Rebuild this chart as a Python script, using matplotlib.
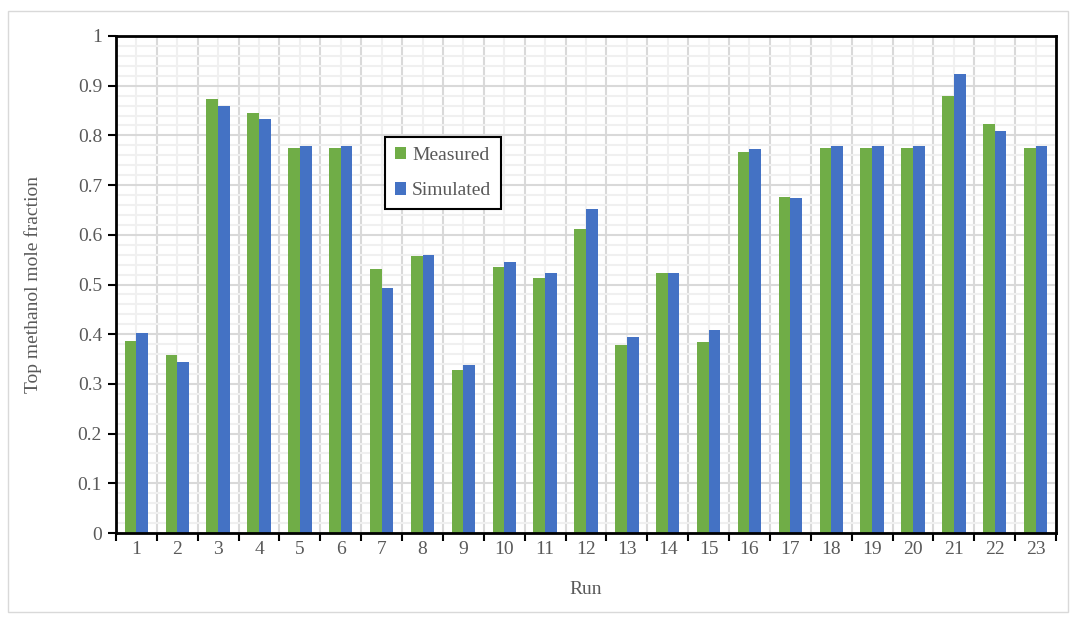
import numpy as np
import matplotlib
matplotlib.use("Agg")
import matplotlib.pyplot as plt
from matplotlib.ticker import MultipleLocator, FixedLocator, NullFormatter
from matplotlib.patches import Rectangle

runs = [str(i) for i in range(1, 24)]
measured = [0.386, 0.358, 0.873, 0.845, 0.775, 0.775, 0.531, 0.557, 0.328, 0.535,
            0.513, 0.612, 0.378, 0.523, 0.384, 0.767, 0.676, 0.775, 0.775, 0.775,
            0.879, 0.822, 0.775]
simulated = [0.402, 0.344, 0.859, 0.832, 0.779, 0.779, 0.493, 0.559, 0.338, 0.545,
             0.523, 0.652, 0.394, 0.523, 0.408, 0.773, 0.674, 0.779, 0.779, 0.779,
             0.923, 0.809, 0.779]

plt.rcParams['font.family'] = ['Liberation Serif', 'DejaVu Serif']
text_grey = '#595959'

fig = plt.figure(figsize=(10.75, 6.19), dpi=100)
ax = fig.add_axes([116 / 1075, 1 - 533 / 619, 940 / 1075, 497 / 619])

# outer chart-area frame
fig.patches.append(Rectangle((8 / 1075, 1 - 612 / 619), 1060 / 1075, 601 / 619,
                             transform=fig.transFigure, fill=False,
                             edgecolor='#D9D9D9', linewidth=1.0))

x = np.arange(len(runs))
w = 0.286
ax.bar(x - w / 2, measured, w, color='#70AD47', linewidth=0,
       label='Measured', zorder=2)
ax.bar(x + w / 2, simulated, w, color='#4472C4', linewidth=0,
       label='Simulated', zorder=2)

ax.set_xlim(-0.5, len(runs) - 0.5)
ax.set_ylim(0, 1)

# x ticks at category boundaries, labels at centres
ax.xaxis.set_major_locator(FixedLocator(np.arange(-0.5, len(runs), 1.0)))
ax.xaxis.set_major_formatter(NullFormatter())
ax.set_xticks(x, labels=runs, minor=True)
ax.tick_params(axis='x', which='minor', length=0, width=0, pad=6, labelsize=14,
               labelcolor=text_grey)
ax.tick_params(axis='x', which='major', length=6, width=1.5, direction='out', color='black')

ax.set_yticks(np.round(np.arange(0, 1.01, 0.1), 1))
ax.set_yticklabels(['0'] + [f'{v:.1f}' for v in np.arange(0.1, 0.95, 0.1)] + ['1'])
ax.yaxis.set_minor_locator(MultipleLocator(0.02))
ax.tick_params(axis='y', which='major', length=6, width=1.5, labelsize=14,
               labelcolor=text_grey, pad=4)
ax.tick_params(axis='y', which='minor', length=0, width=0)

ax.grid(True, which='major', axis='both', color='#D9D9D9', linewidth=1.5, zorder=0)
ax.grid(True, which='minor', axis='both', color='#F0F0F0', linewidth=1.5, zorder=0)
ax.set_axisbelow(True)

for s in ax.spines.values():
    s.set_color('black')
    s.set_linewidth(2)
    s.set_zorder(4)

ax.set_xlabel('Run', fontsize=14, color=text_grey, labelpad=16)
ax.set_ylabel('Top methanol mole fraction', fontsize=14, color=text_grey, labelpad=26)

leg = ax.legend(loc='upper left', bbox_to_anchor=((385 - 116) / 940, (533 - 137) / 497),
                borderaxespad=0, fontsize=14, frameon=True, fancybox=False,
                handlelength=0.6, handleheight=0.6, handletextpad=0.3,
                labelspacing=0.95, borderpad=0.5, labelcolor=text_grey)
leg.get_frame().set_edgecolor('black')
leg.get_frame().set_linewidth(1.5)
leg.get_frame().set_facecolor('white')
leg.get_frame().set_alpha(1)
leg.set_zorder(5)

fig.savefig('out.png', dpi=100)
